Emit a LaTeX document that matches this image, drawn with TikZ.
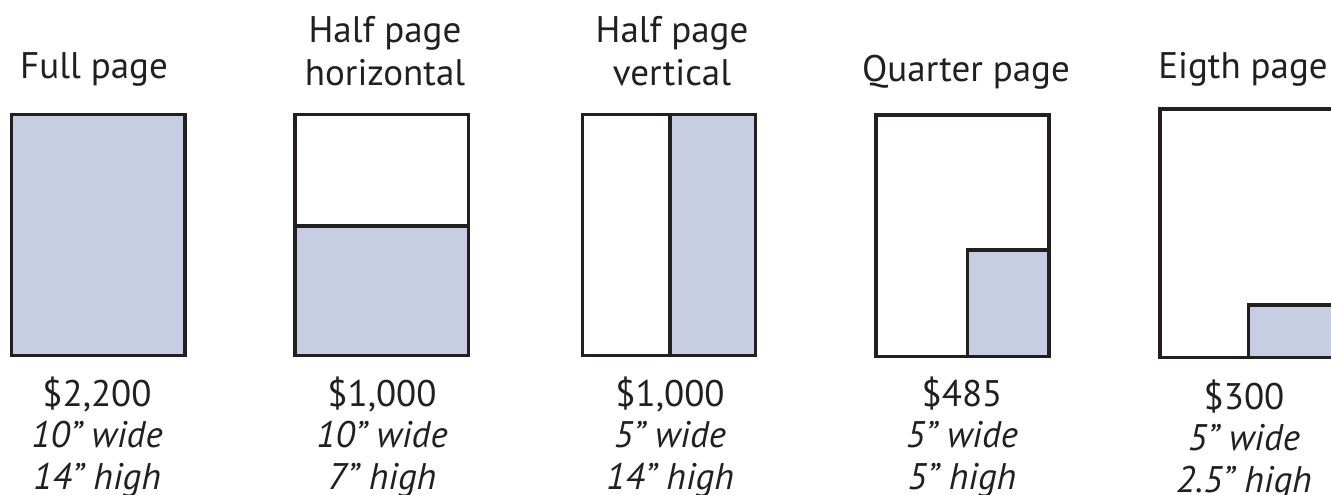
\documentclass[tikz,border=0pt]{standalone}
\usepackage{fontspec}
\setmainfont{PT Sans}
\newcommand{\inchmark}{”}
\definecolor{adfill}{RGB}{199,205,227}
\definecolor{adline}{RGB}{35,31,32}
\begin{document}
\begin{tikzpicture}[x=1pt,y=-1pt,
  pagebox/.style={draw=adline,line width=3.3pt,fill=white},
  adarea/.style={draw=adline,line width=3.3pt,fill=adfill},
  title/.style={anchor=base,inner sep=0pt,font=\fontsize{37}{44}\selectfont,text=adline},
  price/.style={anchor=base,inner sep=0pt,font=\fontsize{37}{44}\selectfont,text=adline},
  dims/.style={anchor=base,inner sep=0pt,font=\fontsize{37}{44}\selectfont\itshape,text=adline}]
\useasboundingbox (0,0) rectangle (1331,495);
\clip (0,0) rectangle (1331,495);
% Full page
\draw[adarea] (11.7,114.3) rectangle (185,355.7);
% Half page horizontal
\draw[pagebox] (295,114.3) rectangle (468.3,355.7);
\draw[adarea] (295,226) rectangle (468.3,355.7);
% Half page vertical
\draw[pagebox] (582.7,114.3) rectangle (755.7,355.7);
\draw[adarea] (670,114.3) rectangle (755.7,355.7);
% Quarter page
\draw[pagebox] (876,115) rectangle (1049,356.7);
\draw[adarea] (967.7,250) rectangle (1049,356.7);
% Eighth page
\draw[pagebox] (1160,109) rectangle (1334,357.7);
\draw[adarea] (1248.3,305) rectangle (1334,357.7);
% titles
\node[title] (t1) at (94,78.5) {Full page};
\node[title] (t2a) at (385,43) {Half page};
\node[title] (t2b) at (385,85) {horizontal};
\node[title] (t3a) at (672,43) {Half page};
\node[title] (t3b) at (672,85) {vertical};
\node[title] (t4) at (966,81.5) {Quarter page};
\node[title] (t5) at (1243,79) {Eigth page};
% prices and sizes
\node[price] (p1) at (97,406) {\$2,200};
\node[dims] (w1) at (97,447.5) {10\inchmark\ wide};
\node[dims] (h1) at (97,489.5) {14\inchmark\ high};
\node[price] (p2) at (382,406) {\$1,000};
\node[dims] (w2) at (382,447.5) {10\inchmark\ wide};
\node[dims] (h2) at (382,489.5) {7\inchmark\ high};
\node[price] (p3) at (670,406) {\$1,000};
\node[dims] (w3) at (670,447.5) {5\inchmark\ wide};
\node[dims] (h3) at (670,489.5) {14\inchmark\ high};
\node[price] (p4) at (962,406) {\$485};
\node[dims] (w4) at (962,447.5) {5\inchmark\ wide};
\node[dims] (h4) at (962,489.5) {5\inchmark\ high};
\node[price] (p5) at (1244,409) {\$300};
\node[dims] (w5) at (1244,450.5) {5\inchmark\ wide};
\node[dims] (h5) at (1244,492.5) {2.5\inchmark\ high};
\end{tikzpicture}
\end{document}
